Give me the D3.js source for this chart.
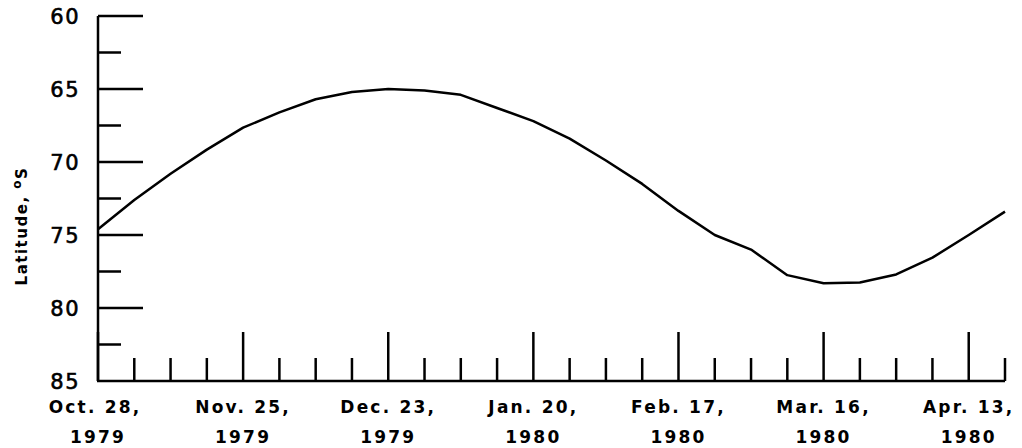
<!DOCTYPE html>
<html>
<head>
<meta charset="utf-8">
<script src="https://cdn.jsdelivr.net/npm/d3@7"></script>
<style>
  body { margin: 0; background: #fff; }
  svg { display: block; }
  text { font-family: "DejaVu Sans", sans-serif; fill: #000; }
</style>
</head>
<body>
<svg></svg>
<script>
var width = 1022,
    height = 448;

// weekly positions, Oct. 28, 1979 to Apr. 20, 1980
var dates = [
  "1979-10-28", "1979-11-04", "1979-11-11", "1979-11-18", "1979-11-25",
  "1979-12-02", "1979-12-09", "1979-12-16", "1979-12-23", "1979-12-30",
  "1980-01-06", "1980-01-13", "1980-01-20", "1980-01-27", "1980-02-03",
  "1980-02-10", "1980-02-17", "1980-02-24", "1980-03-02", "1980-03-09",
  "1980-03-16", "1980-03-23", "1980-03-30", "1980-04-06", "1980-04-13",
  "1980-04-20"
];

var latitude = [
  74.6, 72.6, 70.8, 69.15, 67.65, 66.6, 65.7, 65.2, 65.0, 65.1,
  65.4, 66.3, 67.2, 68.4, 69.9, 71.5, 73.35, 75.0, 76.0, 77.75,
  78.3, 78.25, 77.7, 76.55, 75.0, 73.4
];

var majorTicks = ["1979-10-28", "1979-11-25", "1979-12-23", "1980-01-20", "1980-02-17", "1980-03-16", "1980-04-13"];
var majorLabels = [
  ["Oct. 28,", "1979"], ["Nov. 25,", "1979"], ["Dec. 23,", "1979"], ["Jan. 20,", "1980"],
  ["Feb. 17,", "1980"], ["Mar. 16,", "1980"], ["Apr. 13,", "1980"]
];

var yMajor = [60, 65, 70, 75, 80, 85];
var yMinor = [62.5, 67.5, 72.5, 77.5, 82.5];

var parse = d3.utcParse("%Y-%m-%d");

var x = d3.scaleUtc()
    .domain([parse(dates[0]), parse(dates[dates.length - 1])])
    .range([98, 1005]);

var y = d3.scaleLinear()
    .domain([60, 85])
    .range([16, 381]);

var svg = d3.select("svg")
    .attr("width", width)
    .attr("height", height);

var stroke = 2.5;

// y axis line and ticks (ticks point inward)
svg.append("line")
    .attr("x1", x.range()[0]).attr("x2", x.range()[0])
    .attr("y1", y(60)).attr("y2", y(85))
    .attr("stroke", "#000").attr("stroke-width", stroke);

svg.append("g").selectAll("line")
    .data(yMajor.slice(0, -1))
    .enter().append("line")
    .attr("x1", x.range()[0]).attr("x2", x.range()[0] + 45)
    .attr("y1", y).attr("y2", y)
    .attr("stroke", "#000").attr("stroke-width", stroke);

svg.append("g").selectAll("line")
    .data(yMinor)
    .enter().append("line")
    .attr("x1", x.range()[0]).attr("x2", x.range()[0] + 23)
    .attr("y1", y).attr("y2", y)
    .attr("stroke", "#000").attr("stroke-width", stroke);

svg.append("g").selectAll("text")
    .data(yMajor)
    .enter().append("text")
    .attr("x", 80)
    .attr("y", function (d) { return y(d) + 8; })
    .attr("text-anchor", "end")
    .attr("font-size", 21)
    .attr("letter-spacing", 1.5)
    .attr("stroke", "#000")
    .attr("stroke-width", 0.6)
    .text(function (d) { return d; });

// y title
var title = svg.append("text")
    .attr("transform", "translate(27," + 226 + ") rotate(-90)")
    .attr("text-anchor", "middle")
    .attr("font-size", 15)
    .attr("font-weight", "bold")
    .attr("letter-spacing", 1.5);
title.append("tspan").text("Latitude, ");
title.append("tspan").attr("font-size", 12).attr("dy", -6).text("o");
title.append("tspan").attr("dy", 6).text("S");

// x axis line and ticks (ticks point up)
svg.append("line")
    .attr("x1", x.range()[0] - 1).attr("x2", x.range()[1])
    .attr("y1", y(85)).attr("y2", y(85))
    .attr("stroke", "#000").attr("stroke-width", stroke);

var majorSet = {};
majorTicks.forEach(function (d) { majorSet[d] = true; });

svg.append("g").selectAll("line")
    .data(dates)
    .enter().append("line")
    .attr("x1", function (d) { return x(parse(d)); })
    .attr("x2", function (d) { return x(parse(d)); })
    .attr("y1", y(85))
    .attr("y2", function (d) { return y(85) - (majorSet[d] ? 49 : 23); })
    .attr("stroke", "#000").attr("stroke-width", stroke);

var lab = svg.append("g").selectAll("text")
    .data(majorTicks)
    .enter().append("text")
    .attr("text-anchor", "middle")
    .attr("font-size", 17)
    .attr("font-weight", "bold")
    .attr("letter-spacing", 2.2);

lab.append("tspan")
    .attr("x", function (d, i) { return x(parse(d)) - (i === 0 ? 3 : 0); })
    .attr("y", 413)
    .text(function (d, i) { return majorLabels[i][0]; });

lab.append("tspan")
    .attr("x", function (d) { return x(parse(d)); })
    .attr("y", 443)
    .text(function (d, i) { return majorLabels[i][1]; });

// latitude curve
var line = d3.line()
    .x(function (d, i) { return x(parse(dates[i])); })
    .y(function (d) { return y(d); });

svg.append("path")
    .datum(latitude)
    .attr("d", line)
    .attr("fill", "none")
    .attr("stroke", "#000")
    .attr("stroke-width", stroke)
    .attr("stroke-linejoin", "round");
</script>
</body>
</html>
